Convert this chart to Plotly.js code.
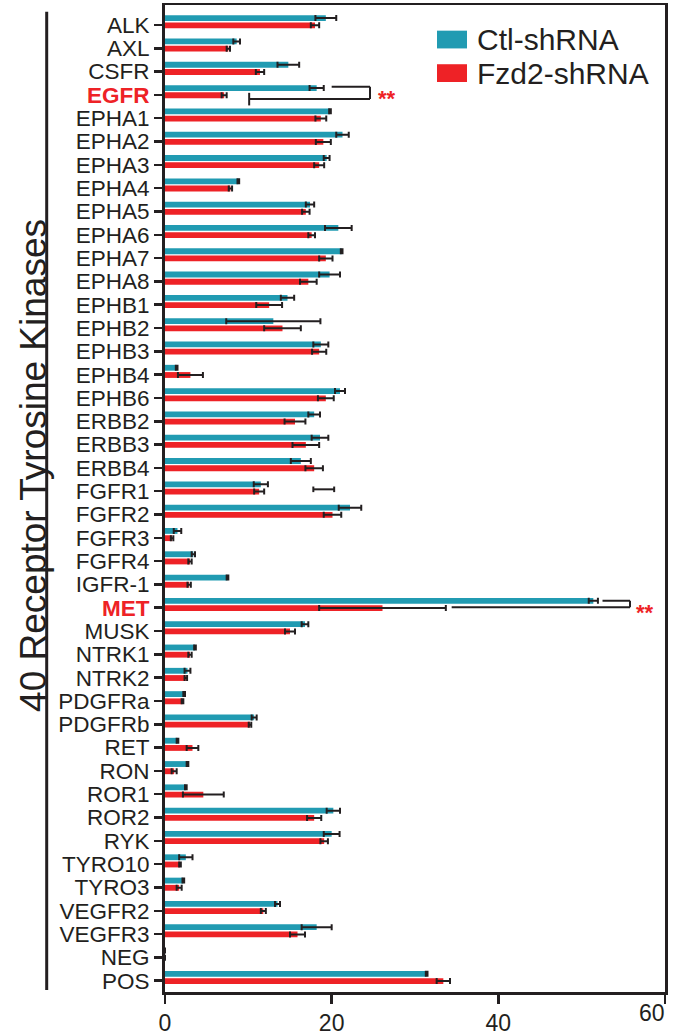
<!DOCTYPE html>
<html>
<head>
<meta charset="utf-8">
<script src="https://cdn.plot.ly/plotly-3.0.1.min.js"></script>
<style>html,body{margin:0;padding:0;background:#fff;}#chart{width:673px;height:1036px;}</style>
</head>
<body>
<div id="chart"></div>
<script>
const categories = ['ALK','AXL','CSFR','EGFR','EPHA1','EPHA2','EPHA3','EPHA4','EPHA5','EPHA6','EPHA7','EPHA8','EPHB1','EPHB2','EPHB3','EPHB4','EPHB6','ERBB2','ERBB3','ERBB4','FGFR1','FGFR2','FGFR3','FGFR4','IGFR-1','MET','MUSK','NTRK1','NTRK2','PDGFRa','PDGFRb','RET','RON','ROR1','ROR2','RYK','TYRO10','TYRO3','VEGFR2','VEGFR3','NEG','POS'];
const highlighted = ['EGFR','MET'];
const ctlValues = [19.3, 8.6, 14.8, 18.2, 19.8, 21.3, 19.4, 8.8, 17.4, 20.8, 21.2, 19.75, 14.7, 13.0, 18.7, 1.4, 21.0, 17.9, 18.6, 16.3, 11.5, 22.2, 1.5, 3.4, 7.5, 51.4, 16.8, 3.6, 2.7, 2.3, 10.7, 1.5, 2.7, 2.5, 20.2, 20.0, 2.5, 2.2, 13.5, 18.2, 0, 31.4];
const ctlErrors = [1.25, 0.4, 1.3, 0.85, 0.1, 0.75, 0.35, 0.1, 0.5, 1.6, 0.1, 1.25, 0.8, 5.65, 0.9, 0.1, 0.6, 0.7, 1.0, 1.2, 0.85, 1.35, 0.45, 0.2, 0.1, 0.55, 0.4, 0.1, 0.35, 0.1, 0.3, 0.1, 0.1, 0.1, 0.8, 0.95, 0.8, 0.1, 0.3, 1.8, 0, 0.1];
const fzdValues = [18.0, 7.6, 11.4, 7.1, 18.7, 19.0, 18.5, 7.85, 16.9, 17.6, 19.3, 17.2, 12.5, 14.1, 18.5, 3.05, 19.3, 15.6, 16.9, 17.9, 11.3, 20.1, 0.85, 3.0, 2.9, 26.1, 15.0, 3.0, 2.5, 2.1, 10.2, 3.3, 1.1, 4.6, 17.9, 19.1, 1.8, 1.7, 11.8, 15.9, 0, 33.4];
const fzdErrors = [0.5, 0.2, 0.5, 0.3, 0.65, 0.9, 0.6, 0.2, 0.45, 0.4, 0.8, 1.0, 1.55, 2.2, 0.85, 1.5, 0.95, 1.25, 1.6, 1.05, 0.6, 1.05, 0.15, 0.2, 0.2, 7.6, 0.6, 0.2, 0.15, 0.1, 0.15, 0.7, 0.3, 2.45, 0.85, 0.45, 0.1, 0.3, 0.3, 0.9, 0, 0.8];
const seriesNames = ['Ctl-shRNA', 'Fzd2-shRNA'];
const xTicks = [0, 20, 40, 60];
const xTickText = ['0', '20', '40', ''];
const xEndTick = [60];
const xEndTickText = ['60'];
const yTitle = '40 Receptor Tyrosine Kinases';
const sigMark = '**';

const TEAL = '#219bb2';
const RED = '#ee2226';
const INK = '#231f20';
const FONT = 'Liberation Sans, Arial, sans-serif';

const tickText = categories.map(c => highlighted.includes(c)
  ? '<span style="color:' + RED + '"><b>' + c + '</b></span>' : c);

const errStyle = {type: 'data', color: INK, thickness: 2, width: 3};

const traces = [
  {type: 'bar', orientation: 'h', name: seriesNames[0], y: categories, x: ctlValues,
   marker: {color: TEAL}, width: 0.25, offset: -0.42,
   error_x: Object.assign({array: ctlErrors}, errStyle), hoverinfo: 'skip'},
  {type: 'bar', orientation: 'h', name: seriesNames[1], y: categories, x: fzdValues,
   marker: {color: RED}, width: 0.25, offset: -0.11,
   error_x: Object.assign({array: fzdErrors}, errStyle), hoverinfo: 'skip'},
  // empty helper trace so the overlaid axis carrying the "60" label is drawn
  {type: 'scatter', mode: 'markers', x: [], y: [], xaxis: 'x2', yaxis: 'y',
   showlegend: false, hoverinfo: 'skip'}
];

const iEGFR = categories.indexOf('EGFR');
const iMET = categories.indexOf('MET');
const iFGFR1 = categories.indexOf('FGFR1');
const ln = {color: INK, width: 2};
function seg(x0, y0, x1, y1) {
  return {type: 'line', xref: 'x', yref: 'y', x0: x0, y0: y0, x1: x1, y1: y1, line: ln};
}
const shapes = [
  // EGFR bracket
  seg(20.0, iEGFR - 0.35, 24.6, iEGFR - 0.35),
  seg(24.6, iEGFR - 0.35, 24.6, iEGFR + 0.18),
  seg(10.1, iEGFR + 0.18, 24.6, iEGFR + 0.18),
  seg(10.1, iEGFR - 0.09, 10.1, iEGFR + 0.45),
  // MET bracket
  seg(52.5, iMET - 0.30, 55.8, iMET - 0.30),
  seg(55.8, iMET - 0.30, 55.8, iMET - 0.02),
  seg(34.4, iMET - 0.02, 55.8, iMET - 0.02),
  // stray error bar near FGFR1
  seg(17.8, iFGFR1 - 0.08, 20.3, iFGFR1 - 0.08),
  seg(17.8, iFGFR1 - 0.2, 17.8, iFGFR1 + 0.04),
  seg(20.3, iFGFR1 - 0.2, 20.3, iFGFR1 + 0.04),
  // left bracket line next to y title
  {type: 'line', xref: 'paper', yref: 'paper', x0: -0.2366, x1: -0.2366, y0: 0.9932, y1: 0.002,
   line: {color: INK, width: 3}},
  // legend swatches
  {type: 'rect', xref: 'paper', yref: 'paper', x0: 0.544, x1: 0.604, y0: 0.956, y1: 0.974,
   fillcolor: TEAL, line: {width: 0}},
  {type: 'rect', xref: 'paper', yref: 'paper', x0: 0.544, x1: 0.604, y0: 0.922, y1: 0.940,
   fillcolor: RED, line: {width: 0}}
];

const annotations = [
  {text: yTitle, xref: 'paper', yref: 'paper', x: -0.262, y: 0.533, textangle: -90,
   xanchor: 'center', yanchor: 'middle',
   showarrow: false, font: {family: FONT, size: 37, color: INK}},
  {text: seriesNames[0], xref: 'paper', yref: 'paper', x: 0.62, y: 0.965, xanchor: 'left',
   yanchor: 'middle', showarrow: false, font: {family: FONT, size: 30, color: INK}},
  {text: seriesNames[1], xref: 'paper', yref: 'paper', x: 0.62, y: 0.9311, xanchor: 'left',
   yanchor: 'middle', showarrow: false, font: {family: FONT, size: 30, color: INK}},
  {text: '<b>' + sigMark + '</b>', xref: 'x', yref: 'y', x: 26.6, y: iEGFR - 0.08, yshift: -5,
   showarrow: false, font: {family: FONT, size: 22, color: RED}},
  {text: '<b>' + sigMark + '</b>', xref: 'x', yref: 'y', x: 57.6, y: iMET - 0.03, yshift: -5,
   showarrow: false, font: {family: FONT, size: 22, color: RED}}
];

const layout = {
  width: 673, height: 1036,
  margin: {l: 165, r: 8, t: 5, b: 44, pad: 0},
  paper_bgcolor: '#fff', plot_bgcolor: '#fff',
  barmode: 'overlay', showlegend: false,
  font: {family: FONT, color: INK},
  xaxis: {range: [0, 60], tickvals: xTicks, ticktext: xTickText, ticks: 'outside', ticklen: 9,
          tickwidth: 2.5, tickcolor: INK, showline: true, linewidth: 2.5, linecolor: INK,
          mirror: true, showgrid: false, zeroline: false, tickfont: {size: 23, color: INK},
          fixedrange: true},
  xaxis2: {overlaying: 'x', anchor: 'y', side: 'bottom', range: [0, 60],
           tickvals: xEndTick, ticktext: xEndTickText, ticks: 'outside', ticklen: 9,
           tickwidth: 1, tickcolor: 'rgba(0,0,0,0)', ticklabelposition: 'outside left',
           showline: false, showgrid: false, zeroline: false,
           tickfont: {size: 23, color: INK}, fixedrange: true},
  yaxis: {type: 'category', categoryorder: 'array', categoryarray: categories,
          range: [41.485, -0.858], tickvals: categories, ticktext: tickText,
          ticks: 'outside', ticklen: 8, tickwidth: 2.5, tickcolor: INK,
          showline: true, linewidth: 3, linecolor: INK, mirror: true,
          showgrid: false, zeroline: false, tickfont: {size: 22.5, color: INK}, fixedrange: true},
  shapes: shapes,
  annotations: annotations
};

Plotly.newPlot('chart', traces, layout, {displayModeBar: false, staticPlot: true});
</script>
</body>
</html>
